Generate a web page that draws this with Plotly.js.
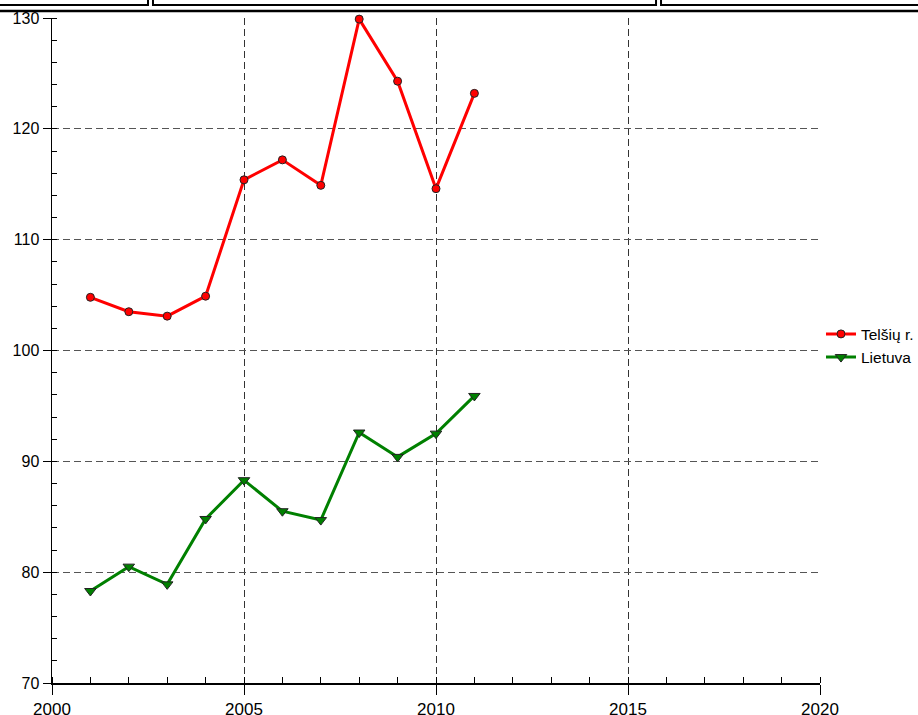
<!DOCTYPE html>
<html>
<head>
<meta charset="utf-8">
<script src="https://cdn.plot.ly/plotly-3.0.1.min.js"></script>
<style>html,body{margin:0;padding:0;background:#fff;}#chart{width:918px;height:715px;}</style>
</head>
<body>
<div id="chart"></div>
<script>
const years = [2001, 2002, 2003, 2004, 2005, 2006, 2007, 2008, 2009, 2010, 2011];
const telsiai = [104.8, 103.5, 103.1, 104.9, 115.4, 117.2, 114.9, 129.9, 124.3, 114.6, 123.2];
const lietuva = [78.3, 80.5, 78.9, 84.8, 88.3, 85.5, 84.7, 92.6, 90.4, 92.5, 95.9];
const seriesNames = ["Telšių r.", "Lietuva"];
const xTicks = [2000, 2005, 2010, 2015, 2020];
const yTicks = [70, 80, 90, 100, 110, 120, 130];

const fam = "Liberation Sans, Arial, sans-serif";

const traces = [
  {x: years, y: telsiai, name: seriesNames[0], type: "scatter", mode: "lines+markers",
   line: {color: "#ff0000", width: 3}, cliponaxis: false,
   marker: {symbol: "circle", size: 8, color: "#ff0000", line: {color: "#222", width: 1}}},
  {x: years, y: lietuva, name: seriesNames[1], type: "scatter", mode: "lines+markers",
   line: {color: "#008000", width: 3}, cliponaxis: false,
   marker: {symbol: "triangle-down", size: 10, color: "#008000", line: {color: "#222", width: 1}}}
];

const layout = {
  width: 918, height: 715,
  margin: {l: 52, r: 98, t: 18, b: 32, autoexpand: false},
  paper_bgcolor: "#fff", plot_bgcolor: "#fff",
  font: {family: fam, size: 16, color: "#000"},
  showlegend: true,
  legend: {x: 1.0013, xanchor: "left", y: 0.507, yanchor: "middle", font: {family: fam, size: 15.5, color: "#000"},
           bgcolor: "rgba(0,0,0,0)", borderwidth: 0, tracegroupgap: 0},
  xaxis: {
    range: [2000, 2020], tickvals: xTicks, ticktext: xTicks.map(String),
    showgrid: true, gridcolor: "#333", griddash: "7px,4px", gridwidth: 1,
    showline: true, linecolor: "#000", linewidth: 1.5, zeroline: false,
    ticks: "outside", ticklen: 10, tickcolor: "#000", tickwidth: 1, ticklabelstandoff: 0,
    minor: {dtick: 1, ticks: "inside", ticklen: 6, tickcolor: "#000", showgrid: false},
    tickfont: {family: fam, size: 17, color: "#000"}, fixedrange: true
  },
  yaxis: {
    range: [70, 130], tickvals: yTicks, ticktext: yTicks.map(String),
    showgrid: true, gridcolor: "#555", griddash: "7px,4px", gridwidth: 1,
    showline: true, linecolor: "#000", linewidth: 1.5, zeroline: false,
    ticks: "outside", ticklen: 8, tickcolor: "#000", tickwidth: 1,
    minor: {dtick: 2, ticks: "inside", ticklen: 5, tickcolor: "#000", showgrid: false},
    tickfont: {family: fam, size: 16, color: "#000"}, fixedrange: true
  },
  shapes: [
    {type: "rect", xref: "paper", yref: "paper", x0: -0.2, x1: 0.125, y0: 1.0195, y1: 1.1, line: {color: "#000", width: 2}, fillcolor: "rgba(0,0,0,0)"},
    {type: "rect", xref: "paper", yref: "paper", x0: 0.1315, x1: 0.7865, y0: 1.0195, y1: 1.1, line: {color: "#000", width: 2}, fillcolor: "rgba(0,0,0,0)"},
    {type: "rect", xref: "paper", yref: "paper", x0: 0.793, x1: 1.3, y0: 1.0195, y1: 1.1, line: {color: "#000", width: 2}, fillcolor: "rgba(0,0,0,0)"},
    {type: "line", xref: "paper", yref: "paper", x0: -0.2, x1: 1.3, y0: 1.0105, y1: 1.0105, line: {color: "#000", width: 2.5}}
  ]
};

Plotly.newPlot("chart", traces, layout, {displayModeBar: false, staticPlot: true});
</script>
</body>
</html>
